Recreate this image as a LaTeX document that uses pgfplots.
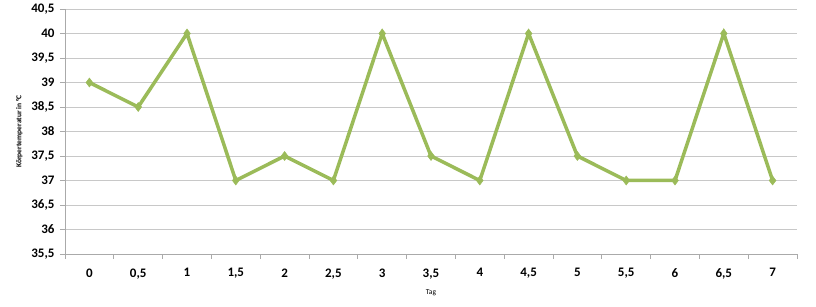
\documentclass[border=0pt]{standalone}
\usepackage{pgfplots}
\pgfplotsset{compat=1.18}
\usepackage{fontspec}
\setmainfont{Carlito}
\definecolor{linegreen}{RGB}{155,187,89}
\definecolor{gridgray}{RGB}{200,200,200}
\definecolor{axisgray}{RGB}{170,170,170}
\begin{document}
\begin{tikzpicture}[x=1pt,y=1pt]
\path[use as bounding box] (-65pt,-53pt) rectangle (751pt,254pt);
\begin{axis}[
  at={(0pt,0pt)}, anchor=south west,
  scale only axis, width=732pt, height=245pt,
  xmin=-0.5, xmax=14.5, ymin=35.5, ymax=40.5,
  xtick={0,...,14},
  xticklabels={0,{0,5},1,{1,5},2,{2,5},3,{3,5},4,{4,5},5,{5,5},6,{6,5},7},
  minor xtick={-0.5,0.5,...,14.5},
  major x tick style={draw=none},
  ytick={35.5,36,...,40.5},
  tick align=outside,
  major tick length=5pt, minor tick length=5pt,
  axis lines*=left,
  axis line style={axisgray, line width=0.8pt},
  tick style={axisgray, line width=0.8pt},
  ymajorgrids, grid style={gridgray, line width=0.8pt},
  tick label style={font=\bfseries\fontsize{13}{13}\selectfont, text=black},
  /pgf/number format/.cd, use comma, fixed, precision=1, assume math mode=true,
  /pgfplots/.cd,
  yticklabel style={xshift=-2pt},
  xticklabel style={yshift=-6pt},
  xlabel={Tag}, xlabel style={font=\fontsize{7.5}{7.5}\selectfont, yshift=-4pt},
  ylabel={Körpertemperatur in °C}, ylabel style={font=\bfseries\fontsize{7.5}{7.5}\selectfont, yshift=2pt},
  clip=false,
]
\addplot[linegreen, line width=3.5pt, mark=diamond*, mark size=4.5pt, mark options={fill=linegreen, draw=linegreen, line width=0.5pt}]
coordinates {
(0,39) (1,38.5) (2,40) (3,37) (4,37.5) (5,37) (6,40) (7,37.5) (8,37) (9,40) (10,37.5) (11,37) (12,37) (13,40) (14,37)
};
\end{axis}
\end{tikzpicture}
\end{document}
